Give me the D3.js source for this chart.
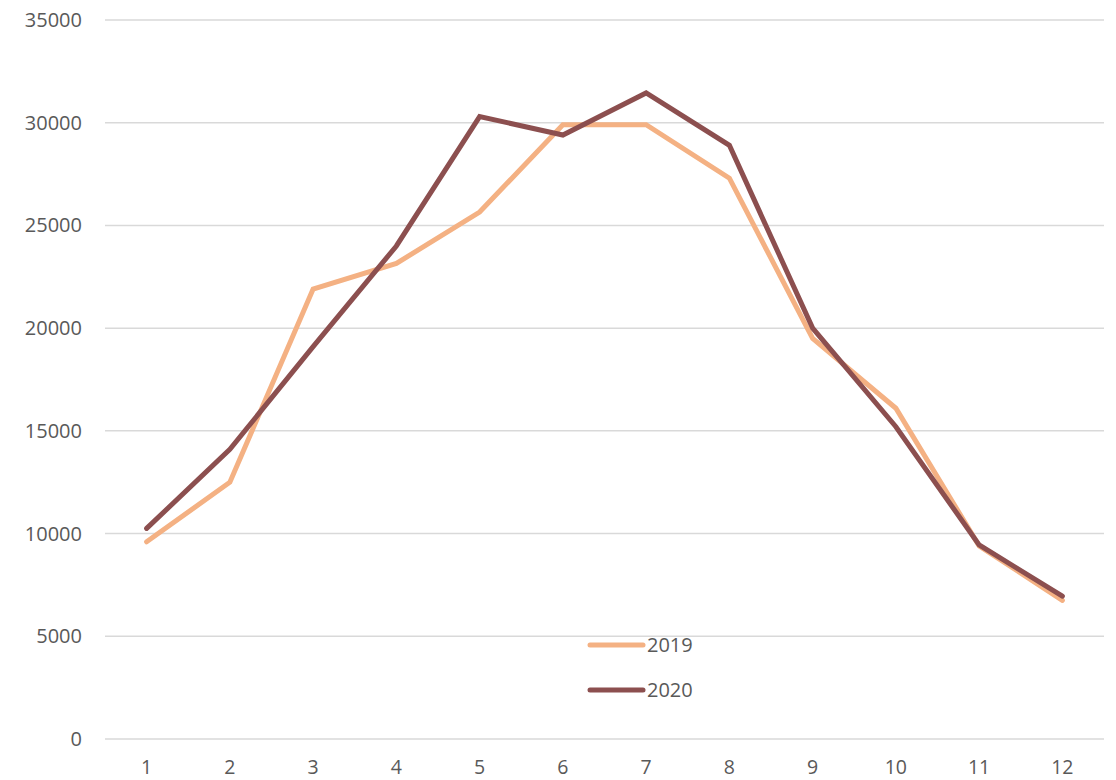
<!DOCTYPE html>
<html><head><meta charset="utf-8">
<script src="https://cdn.jsdelivr.net/npm/d3@7"></script>
<style>body{margin:0;background:#fff;}svg{display:block;font-family:"Open Sans","Liberation Sans",sans-serif;}</style>
</head><body><svg id="c" width="1116" height="780"></svg>
<script>
const months = ["1","2","3","4","5","6","7","8","9","10","11","12"];
const values2019 = [9600,12500,21900,23150,25650,29900,29900,27300,19500,16100,9400,6750];
const values2020 = [10250,14100,19100,24000,30300,29400,31450,28900,20000,15200,9450,6950];
const yTicks = [0,5000,10000,15000,20000,25000,30000,35000];
const seriesNames = ["2019","2020"];
const colors = ["#F4B183","#8C4F4F"];

const svg = d3.select("#c");
const x = d3.scaleBand().domain(months).range([105,1104]);
const y = d3.scaleLinear().domain([0,35000]).range([739,20]);

svg.append("g").selectAll("line").data(yTicks).join("line")
  .attr("x1",105).attr("x2",1104).attr("y1",d=>y(d)).attr("y2",d=>y(d))
  .attr("stroke","#d9d9d9").attr("stroke-width",1.5);

svg.append("g").selectAll("text").data(yTicks).join("text")
  .attr("x",82).attr("y",d=>y(d)).attr("dy","0.35em").attr("text-anchor","end")
  .attr("font-size",20).attr("fill","#595959").text(d=>d);

svg.append("g").selectAll("text").data(months).join("text")
  .attr("x",d=>x(d)+x.bandwidth()/2).attr("y",774).attr("text-anchor","middle")
  .attr("font-size",19.5).attr("fill","#595959").text(d=>d);

const line = d3.line().x((d,i)=>x(months[i])+x.bandwidth()/2).y(d=>y(d));
[values2019,values2020].forEach((vals,k)=>{
  svg.append("path").datum(vals).attr("d",line).attr("fill","none")
    .attr("stroke",colors[k]).attr("stroke-width",5).attr("stroke-linejoin","miter").attr("stroke-linecap","round");
});

const leg = svg.append("g");
seriesNames.forEach((n,k)=>{
  const ly = 645 + k*45;
  leg.append("line").attr("x1",590).attr("x2",643).attr("y1",ly).attr("y2",ly)
    .attr("stroke",colors[k]).attr("stroke-width",5).attr("stroke-linecap","round");
  leg.append("text").attr("x",647).attr("y",ly).attr("dy","0.36em")
    .attr("font-size",20).attr("fill","#595959").text(n);
});
</script></body></html>
